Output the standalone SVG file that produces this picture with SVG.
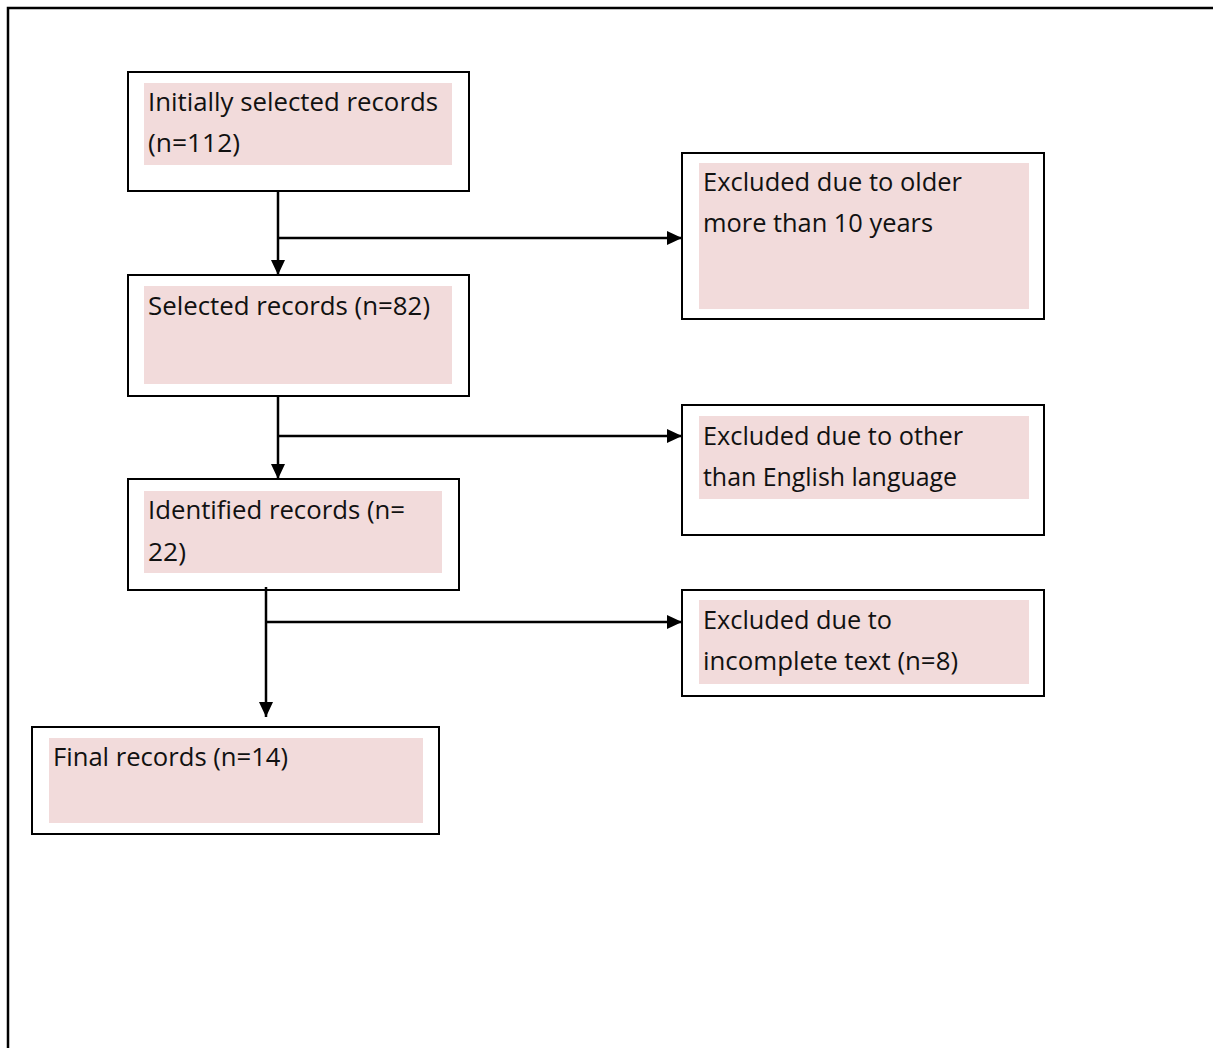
<svg xmlns="http://www.w3.org/2000/svg" width="1213" height="1048" viewBox="0 0 1213 1048">
<style>
.frame{fill:none;stroke:#000;stroke-width:2.5}
.box{fill:#fff;stroke:#000;stroke-width:2}
.hl{fill:#f2dbdb;stroke:none}
.t{font-family:"Open Sans","Noto Sans",sans-serif;font-size:25px;fill:#111}
.c{fill:none;stroke:#000;stroke-width:2.5}
</style>
<defs>
<marker id="ah" viewBox="0 0 15 14" refX="15" refY="7" markerWidth="15" markerHeight="14" markerUnits="userSpaceOnUse" orient="auto">
<path d="M0,0 L15,7 L0,14 Z" fill="#000"/>
</marker>
</defs>
<rect x="0" y="0" width="1213" height="1048" fill="#fff"/>
<path class="frame" d="M8,1048 V8 H1213"/>
<g id="n1">
<rect class="box" x="128" y="72" width="341" height="119"/>
<rect class="hl" x="144" y="83" width="308" height="82"/>
<text class="t" x="148" y="111" textLength="290" lengthAdjust="spacingAndGlyphs">Initially selected records</text>
<text class="t" x="148" y="152" textLength="92" lengthAdjust="spacingAndGlyphs">(n=112)</text>
</g>
<g id="n2">
<rect class="box" x="128" y="275" width="341" height="121"/>
<rect class="hl" x="144" y="286" width="308" height="98"/>
<text class="t" x="148" y="315" textLength="282" lengthAdjust="spacingAndGlyphs">Selected records (n=82)</text>
</g>
<g id="n3">
<rect class="box" x="128" y="479" width="331" height="111"/>
<rect class="hl" x="144" y="491" width="298" height="82"/>
<text class="t" x="148" y="519" textLength="257" lengthAdjust="spacingAndGlyphs">Identified records (n=</text>
<text class="t" x="148" y="561" textLength="38" lengthAdjust="spacingAndGlyphs">22)</text>
</g>
<g id="n4">
<rect class="box" x="32" y="727" width="407" height="107"/>
<rect class="hl" x="49" y="738" width="374" height="85"/>
<text class="t" x="53" y="766" textLength="235" lengthAdjust="spacingAndGlyphs">Final records (n=14)</text>
</g>
<g id="e1">
<rect class="box" x="682" y="153" width="362" height="166"/>
<rect class="hl" x="699" y="163" width="330" height="146"/>
<text class="t" x="703" y="191" textLength="259" lengthAdjust="spacingAndGlyphs">Excluded due to older</text>
<text class="t" x="703" y="232" textLength="230" lengthAdjust="spacingAndGlyphs">more than 10 years</text>
</g>
<g id="e2">
<rect class="box" x="682" y="405" width="362" height="130"/>
<rect class="hl" x="699" y="416" width="330" height="83"/>
<text class="t" x="703" y="445" textLength="260" lengthAdjust="spacingAndGlyphs">Excluded due to other</text>
<text class="t" x="703" y="486" textLength="254" lengthAdjust="spacingAndGlyphs">than English language</text>
</g>
<g id="e3">
<rect class="box" x="682" y="590" width="362" height="106"/>
<rect class="hl" x="699" y="600" width="330" height="84"/>
<text class="t" x="703" y="629" textLength="189" lengthAdjust="spacingAndGlyphs">Excluded due to</text>
<text class="t" x="703" y="670" textLength="255" lengthAdjust="spacingAndGlyphs">incomplete text (n=8)</text>
</g>
<g id="connectors">
<path class="c" d="M278,191 V275" marker-end="url(#ah)"/>
<path class="c" d="M278,238 H682" marker-end="url(#ah)"/>
<path class="c" d="M278,396 V479" marker-end="url(#ah)"/>
<path class="c" d="M278,436 H682" marker-end="url(#ah)"/>
<path class="c" d="M266,587 V717" marker-end="url(#ah)"/>
<path class="c" d="M266,622 H682" marker-end="url(#ah)"/>
</g>
</svg>
